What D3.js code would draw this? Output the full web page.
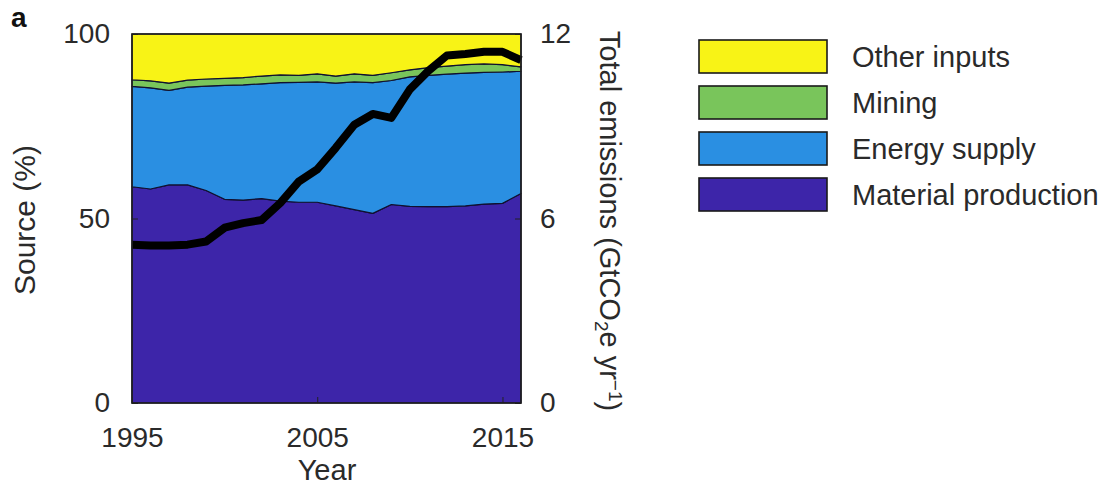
<!DOCTYPE html>
<html>
<head>
<meta charset="utf-8">
<script src="https://cdn.jsdelivr.net/npm/d3@7"></script>
<style>
  html, body { margin: 0; padding: 0; background: #fff; }
  svg { display: block; font-family: "Liberation Sans", Arial, sans-serif; }
</style>
</head>
<body>
<svg id="chart" width="1103" height="496"></svg>
<script>
// Years covered by the series
const years = [1995, 1996, 1997, 1998, 1999, 2000, 2001, 2002, 2003, 2004, 2005,
               2006, 2007, 2008, 2009, 2010, 2011, 2012, 2013, 2014, 2015, 2016];

// Share of emissions by source (%), bottom to top of the stack
const materialProduction = [58.6, 58.0, 59.1, 59.1, 57.6, 55.2, 55.0, 55.4, 54.7, 54.4, 54.4,
                            53.4, 52.4, 51.4, 53.8, 53.3, 53.2, 53.2, 53.4, 53.9, 54.1, 56.8];
const energySupply = [27.2, 27.4, 25.6, 26.5, 28.3, 30.9, 31.2, 31.1, 32.1, 32.5, 32.6,
                      33.3, 34.6, 35.4, 33.6, 35.1, 35.6, 35.9, 36.0, 35.7, 35.6, 33.1];
const mining = [1.8, 1.9, 2.0, 1.9, 1.9, 1.9, 2.0, 2.1, 2.1, 1.9, 2.2,
                1.9, 2.2, 2.0, 2.1, 1.9, 2.1, 2.2, 2.3, 2.3, 2.0, 1.2];
const otherInputs = [12.4, 12.7, 13.3, 12.5, 12.2, 12.0, 11.8, 11.4, 11.1, 11.2, 10.8,
                     11.4, 10.8, 11.2, 10.5, 9.7, 9.1, 8.7, 8.3, 8.1, 8.3, 8.9];

// Total emissions (GtCO2e per year)
const totalEmissions = [5.15, 5.12, 5.12, 5.15, 5.25, 5.7, 5.85, 5.95, 6.5, 7.2, 7.6,
                        8.3, 9.05, 9.4, 9.27, 10.2, 10.8, 11.3, 11.35, 11.42, 11.42, 11.15];

// Tick labels
const xTicks = [1995, 2005, 2015];
const leftTicks = [0, 50, 100];
const rightTicks = [0, 6, 12];

// Legend entries, listed top to bottom
const legendLabels = ["Other inputs", "Mining", "Energy supply", "Material production"];

const seriesKeys = ["material", "energy", "mining", "other"];
const colors = {
  material: "#3d25a9",
  energy: "#2a8fe2",
  mining: "#79c55b",
  other: "#f8f316"
};
const legendKeys = ["other", "mining", "energy", "material"];

const rows = years.map((y, i) => ({
  year: y,
  material: materialProduction[i],
  energy: energySupply[i],
  mining: mining[i],
  other: otherInputs[i]
}));

const svg = d3.select("#chart");
const plotLeft = 132, plotRight = 521, plotTop = 34, plotBottom = 403;
const textColor = "#2a2a2a";

const x = d3.scaleLinear().domain([1995, 2016]).range([plotLeft, plotRight]);
const yPct = d3.scaleLinear().domain([0, 100]).range([plotBottom, plotTop]);
const yEm = d3.scaleLinear().domain([0, 12]).range([plotBottom, plotTop]);

// Stacked areas
const stack = d3.stack().keys(seriesKeys);
const layers = stack(rows);
const area = d3.area()
  .x(d => x(d.data.year))
  .y0(d => yPct(d[0]))
  .y1(d => yPct(d[1]));

svg.append("g").selectAll("path")
  .data(layers)
  .join("path")
  .attr("d", area)
  .attr("fill", d => colors[d.key])
  .attr("stroke", "#101030")
  .attr("stroke-width", 1.2)
  .attr("stroke-linejoin", "round");

// Total emissions line
const line = d3.line()
  .x((d, i) => x(years[i]))
  .y(d => yEm(d))
  .curve(d3.curveLinear);

svg.append("path")
  .datum(totalEmissions)
  .attr("d", line)
  .attr("fill", "none")
  .attr("stroke", "#000")
  .attr("stroke-width", 8)
  .attr("stroke-linejoin", "round")
  .attr("stroke-linecap", "butt");

// Axes (ticks pointing inward)
const tickFont = 28;
function styleAxis(g) {
  g.select(".domain").remove();
  g.selectAll(".tick line").attr("stroke", "#222").attr("stroke-width", 1);
  g.selectAll(".tick text")
    .attr("fill", textColor)
    .style("font-size", tickFont + "px");
}

svg.append("g")
  .attr("transform", `translate(0,${plotBottom})`)
  .call(d3.axisBottom(x).tickValues(xTicks).tickFormat(d3.format("d"))
    .tickSizeInner(-6).tickSizeOuter(0).tickPadding(24))
  .call(styleAxis);

svg.append("g")
  .attr("transform", `translate(${plotLeft},0)`)
  .call(d3.axisLeft(yPct).tickValues(leftTicks)
    .tickSizeInner(-6).tickSizeOuter(0).tickPadding(22))
  .call(styleAxis);

svg.append("g")
  .attr("transform", `translate(${plotRight},0)`)
  .call(d3.axisRight(yEm).tickValues(rightTicks)
    .tickSizeInner(-6).tickSizeOuter(0).tickPadding(19))
  .call(styleAxis);

// Plot frame
svg.append("rect")
  .attr("x", plotLeft).attr("y", plotTop)
  .attr("width", plotRight - plotLeft).attr("height", plotBottom - plotTop)
  .attr("fill", "none")
  .attr("stroke", "#1e1e1e")
  .attr("stroke-width", 1.6);

// Axis titles
svg.append("text")
  .attr("x", 327)
  .attr("y", 480)
  .attr("text-anchor", "middle")
  .attr("fill", textColor)
  .style("font-size", "29px")
  .text("Year");

svg.append("text")
  .attr("transform", `translate(35,220) rotate(-90)`)
  .attr("text-anchor", "middle")
  .attr("fill", textColor)
  .style("font-size", "30px")
  .text("Source (%)");

const rightTitle = svg.append("text")
  .attr("transform", `translate(600,221) rotate(90)`)
  .attr("text-anchor", "middle")
  .attr("fill", textColor)
  .style("font-size", "29px");
rightTitle.append("tspan").text("Total emissions (GtCO");
rightTitle.append("tspan").attr("baseline-shift", "-25%").style("font-size", "19px").text("2");
rightTitle.append("tspan").text("e yr");
rightTitle.append("tspan").attr("baseline-shift", "45%").style("font-size", "19px").text("\u22121");
rightTitle.append("tspan").text(")");

// Panel letter
svg.append("text")
  .attr("x", 11).attr("y", 27)
  .attr("fill", "#111")
  .style("font-size", "28px")
  .style("font-weight", "bold")
  .text("a");

// Legend
const legend = svg.append("g");
const legendRows = legend.selectAll("g")
  .data(legendKeys)
  .join("g")
  .attr("transform", (d, i) => `translate(699,${40 + i * 46})`);

legendRows.append("rect")
  .attr("width", 128).attr("height", 33)
  .attr("fill", d => colors[d])
  .attr("stroke", "#1a1a1a")
  .attr("stroke-width", 1.6);

legendRows.append("text")
  .attr("x", 153)
  .attr("y", 27)
  .attr("fill", textColor)
  .style("font-size", "29px")
  .text((d, i) => legendLabels[i]);
</script>
</body>
</html>
